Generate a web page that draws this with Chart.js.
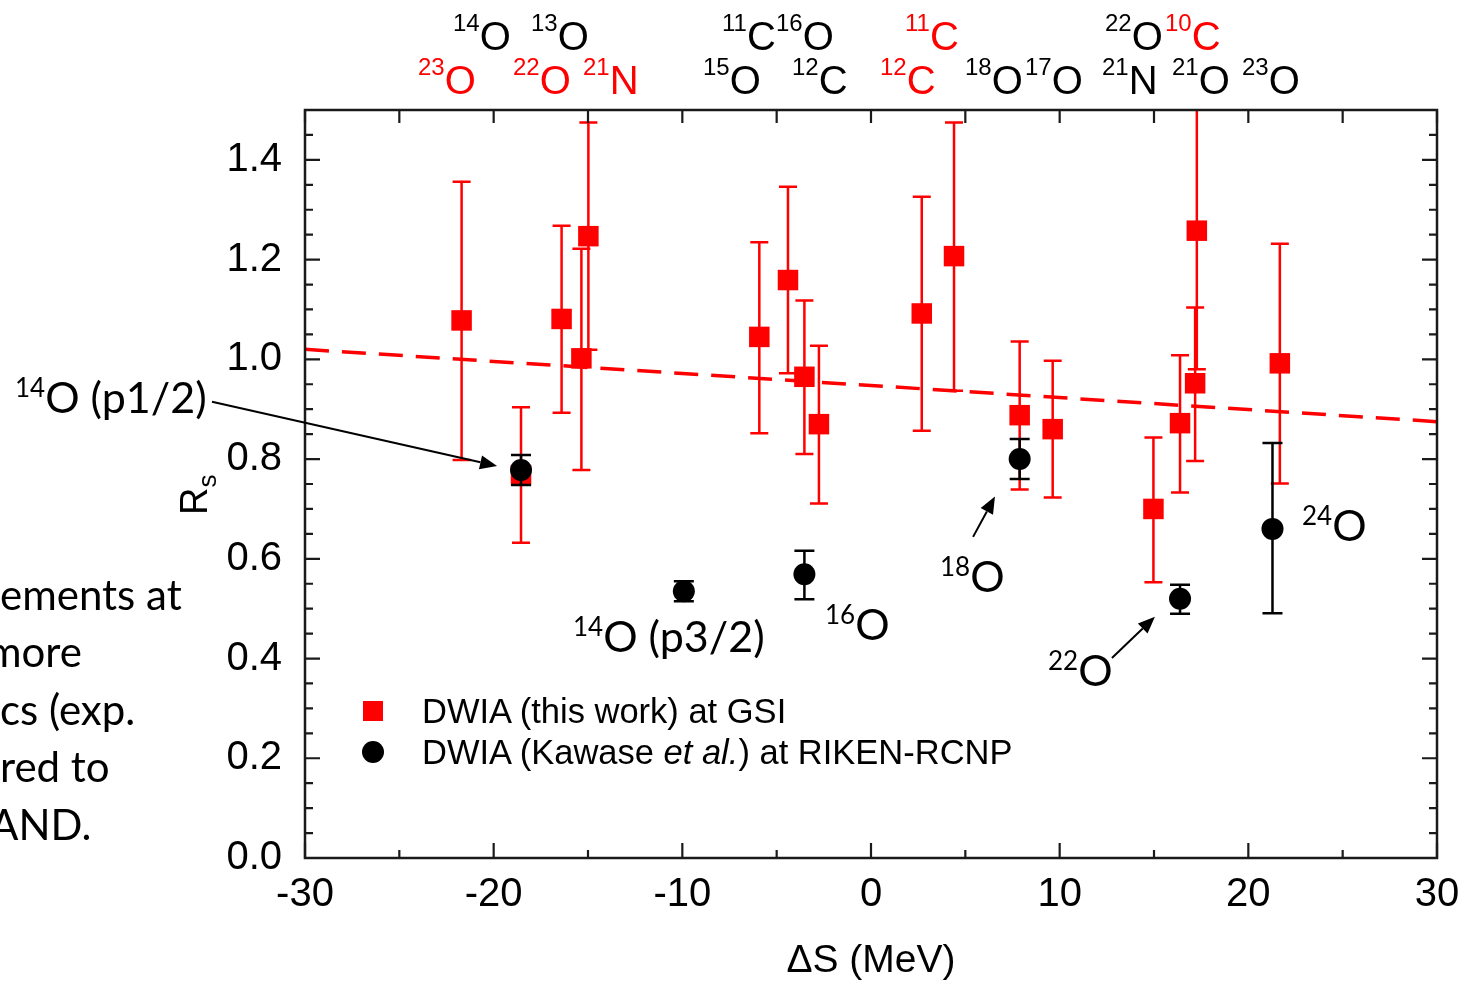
<!DOCTYPE html>
<html>
<head>
<meta charset="utf-8">
<script src="https://cdn.jsdelivr.net/npm/chart.js@4.4.1/dist/chart.umd.min.js"></script>
<style>
  body { margin: 0; background: #fff; }
  #wrap { position: relative; width: 1470px; height: 985px; overflow: hidden; }
  #c { position: absolute; left: 0; top: 0; }
  .t { position: absolute; white-space: nowrap; line-height: 1; }
  .ar { font-family: "Liberation Sans", Arial, sans-serif; }
  .cal { font-family: Lato, "Open Sans", sans-serif; }
  .mk { position: absolute; }
</style>
</head>
<body>
<div id="wrap">
  <canvas id="c" width="1470" height="985"></canvas>
</div>
<script>
// red squares: DWIA (this work) at GSI
const redX    = [-21.7, -18.55, -16.4, -15.35, -14.98, -5.92, -4.4, -3.53, -2.76, 2.69, 4.4, 7.88, 9.63, 14.97, 16.38, 17.18, 17.27, 21.67];
const redY    = [1.078, 0.768, 1.081, 1.002, 1.247, 1.045, 1.159, 0.965, 0.870, 1.092, 1.207, 0.888, 0.860, 0.700, 0.872, 0.952, 1.258, 0.992];
const redLow  = [0.798, 0.632, 0.893, 0.778, 1.019, 0.852, 0.972, 0.810, 0.711, 0.857, 0.937, 0.739, 0.723, 0.553, 0.733, 0.796, 0.980, 0.751];
const redHigh = [1.356, 0.904, 1.268, 1.222, 1.475, 1.235, 1.346, 1.118, 1.027, 1.326, 1.475, 1.036, 0.997, 0.843, 1.008, 1.104, 1.550, 1.232];

// black circles: DWIA (Kawase et al.) at RIKEN-RCNP
const blackX    = [-18.55, -9.92, -3.53, 7.88, 16.38, 21.28];
const blackY    = [0.778, 0.535, 0.569, 0.800, 0.520, 0.660];
const blackLow  = [0.748, 0.515, 0.519, 0.760, 0.490, 0.491];
const blackHigh = [0.808, 0.555, 0.616, 0.840, 0.548, 0.832];

// dashed linear trend
const fitX = [-30, 30];
const fitY = [1.02, 0.875];

const xTicks = [-30, -20, -10, 0, 10, 20, 30];
const yTicks = [0, 0.2, 0.4, 0.6, 0.8, 1.0, 1.2, 1.4];

const RED = '#ff0000';
const wrap = document.getElementById('wrap');

// error bars drawn under each dataset's own markers
const errorBars = {
  id: 'errorBars',
  beforeDatasetDraw(chart, args) {
    const ds = chart.data.datasets[args.index];
    if (!ds.errLow) return;
    const ctx = chart.ctx, xs = chart.scales.x, ys = chart.scales.y, a = chart.chartArea;
    ctx.save();
    ctx.beginPath();
    ctx.rect(a.left, a.top, a.right - a.left, a.bottom - a.top);
    ctx.clip();
    ctx.strokeStyle = ds.errColor;
    ctx.lineWidth = 2.5;
    ds.data.forEach((p, i) => {
      const px = xs.getPixelForValue(p.x);
      const lo = ys.getPixelForValue(ds.errLow[i]);
      const hi = ys.getPixelForValue(ds.errHigh[i]);
      ctx.beginPath();
      ctx.moveTo(px, lo); ctx.lineTo(px, hi);
      ctx.moveTo(px - ds.capHalf, lo); ctx.lineTo(px + ds.capHalf, lo);
      ctx.moveTo(px - ds.capHalf, hi); ctx.lineTo(px + ds.capHalf, hi);
      ctx.stroke();
    });
    ctx.restore();
  }
};

// box frame with inward ticks on all four sides
const frame = {
  id: 'frame',
  afterDatasetsDraw(chart) {
    const ctx = chart.ctx, xs = chart.scales.x, ys = chart.scales.y, a = chart.chartArea;
    ctx.save();
    ctx.strokeStyle = '#1a1a1a';
    ctx.lineWidth = 2.5;
    ctx.strokeRect(a.left, a.top, a.right - a.left, a.bottom - a.top);
    ctx.lineWidth = 2.2;
    ctx.beginPath();
    for (let k = 0; k <= 12; k++) {
      const v = -30 + k * 5;
      const px = xs.getPixelForValue(v);
      const len = k % 2 === 0 ? 15 : 8;
      ctx.moveTo(px, a.bottom); ctx.lineTo(px, a.bottom - len);
      ctx.moveTo(px, a.top); ctx.lineTo(px, a.top + 13);
    }
    for (let k = 0; k <= 30; k++) {
      const py = ys.getPixelForValue(k * 0.05);
      const len = k % 4 === 0 ? 15 : 8;
      ctx.moveTo(a.left, py); ctx.lineTo(a.left + len, py);
      ctx.moveTo(a.right, py); ctx.lineTo(a.right - len, py);
    }
    ctx.stroke();
    ctx.restore();
  },
  afterDraw(chart) {
    // arrows pointing at labelled points (data coordinates)
    const ctx = chart.ctx, xs = chart.scales.x, ys = chart.scales.y;
    const arrows = [
      [-34.93, 0.915, -19.82, 0.786],
      [5.41, 0.644, 6.57, 0.725],
      [12.77, 0.401, 15.05, 0.484]
    ];
    ctx.save();
    ctx.strokeStyle = '#000';
    ctx.fillStyle = '#000';
    ctx.lineWidth = 2;
    arrows.forEach(([x0, y0, x1, y1]) => {
      const ax = xs.getPixelForValue(x0), ay = ys.getPixelForValue(y0);
      const bx = xs.getPixelForValue(x1), by = ys.getPixelForValue(y1);
      const ang = Math.atan2(by - ay, bx - ax);
      const hl = 17, hw = 7;
      const cx = bx - hl * Math.cos(ang), cy = by - hl * Math.sin(ang);
      ctx.beginPath();
      ctx.moveTo(ax, ay); ctx.lineTo(cx, cy);
      ctx.stroke();
      ctx.beginPath();
      ctx.moveTo(bx, by);
      ctx.lineTo(cx + hw * Math.sin(ang), cy - hw * Math.cos(ang));
      ctx.lineTo(cx - hw * Math.sin(ang), cy + hw * Math.cos(ang));
      ctx.closePath();
      ctx.fill();
    });
    ctx.restore();
  }
};

new Chart(document.getElementById('c'), {
  type: 'scatter',
  data: {
    datasets: [
      {
        label: 'DWIA (Kawase et al.) at RIKEN-RCNP',
        data: blackX.map((x, i) => ({ x, y: blackY[i] })),
        pointStyle: 'circle', pointRadius: 11,
        backgroundColor: '#000', borderWidth: 0,
        errLow: blackLow, errHigh: blackHigh, errColor: '#000', capHalf: 10,
        order: 0
      },
      {
        label: 'DWIA (this work) at GSI',
        data: redX.map((x, i) => ({ x, y: redY[i] })),
        pointStyle: 'rect', pointRadius: 14.5,
        backgroundColor: RED, borderWidth: 0,
        errLow: redLow, errHigh: redHigh, errColor: RED, capHalf: 9,
        order: 1
      },
      {
        type: 'line',
        label: 'trend',
        data: fitX.map((x, i) => ({ x, y: fitY[i] })),
        borderColor: RED, borderWidth: 3.5, borderDash: [24, 13],
        pointRadius: 0, fill: false,
        order: 2
      }
    ]
  },
  options: {
    responsive: false,
    animation: false,
    layout: { padding: { top: 110, right: 33, left: 0, bottom: 0 } },
    plugins: { legend: { display: false }, tooltip: { enabled: false } },
    scales: {
      x: {
        type: 'linear', min: -30, max: 30,
        afterBuildTicks: s => { s.ticks = xTicks.map(v => ({ value: v })); },
        afterFit: s => { s.height = 127; },
        grid: { display: false },
        border: { display: false },
        ticks: {
          color: '#000', padding: 5, maxRotation: 0, autoSkip: false,
          font: { family: 'Liberation Sans', size: 40 },
          callback: v => String(v)
        },
        title: {
          display: true, text: 'ΔS (MeV)', color: '#000',
          font: { family: 'Liberation Sans', size: 39 },
          padding: { top: 0, bottom: 0 }
        }
      },
      y: {
        type: 'linear', min: 0, max: 1.5,
        afterBuildTicks: s => { s.ticks = yTicks.map(v => ({ value: v })); },
        afterFit: s => { s.width = 305; },
        grid: { display: false },
        border: { display: false },
        ticks: {
          color: '#000', padding: 15,
          font: { family: 'Liberation Sans', size: 40 },
          callback: v => v.toFixed(1)
        }
      }
    }
  },
  plugins: [errorBars, frame]
});

// ---- text overlays ----
function addLabel(x, baseline, parts, cls, size, supSize, raise) {
  const d = document.createElement('div');
  d.className = 't ' + cls;
  d.style.left = x + 'px';
  d.style.fontSize = size + 'px';
  d.style.top = (baseline - size * (cls === 'ar' ? 0.8465 : 0.887)) + 'px';
  parts.forEach(p => {
    const s = document.createElement('span');
    s.textContent = p[0];
    s.style.color = p[2] || '#000';
    if (p[1] === 'sup') { s.style.fontSize = supSize + 'px'; s.style.verticalAlign = raise + 'px'; s.style.lineHeight = '0'; }
    if (p[1] === 'it') s.style.fontStyle = 'italic';
    d.appendChild(s);
  });
  wrap.appendChild(d);
  return d;
}

// nuclide labels above the frame: [left, baseline, mass, symbol, colour]
const topLabels = [
  [453, 50, '14', 'O', '#000'], [531, 50, '13', 'O', '#000'], [722, 50, '11', 'C', '#000'], [776, 50, '16', 'O', '#000'],
  [905, 50, '11', 'C', RED], [1105, 50, '22', 'O', '#000'], [1165, 50, '10', 'C', RED],
  [418, 94, '23', 'O', RED], [513, 94, '22', 'O', RED], [583, 94, '21', 'N', RED], [703, 94, '15', 'O', '#000'],
  [792, 94, '12', 'C', '#000'], [880, 94, '12', 'C', RED], [965, 94, '18', 'O', '#000'], [1025, 94, '17', 'O', '#000'],
  [1102, 94, '21', 'N', '#000'], [1172, 94, '21', 'O', '#000'], [1242, 94, '23', 'O', '#000']
];
topLabels.forEach(([x, b, m, s, c]) => addLabel(x, b, [[m, 'sup', c], [s, '', c]], 'ar', 40, 24, 19));

// point annotations
const notes = [
  [15, 413, '14', 'O (p1/2)'], [573, 652, '14', 'O (p3/2)'], [825, 640, '16', 'O'],
  [940, 592, '18', 'O'], [1048, 686, '22', 'O'], [1302, 541, '24', 'O']
];
notes.forEach(([x, b, m, s]) => addLabel(x, b, [[m, 'sup'], [s, '']], 'cal', 43, 26, 16));

// slide text clipped at the left edge
const sideText = [[0, 610, 'ements at'], [-13, 667, 'more'], [0, 725, 'cs (exp.'], [0, 782, 'red to'], [-10, 840, 'AND.']];
sideText.forEach(([x, b, s]) => addLabel(x, b, [[s, '']], 'cal', 42));

// legend
const sq = document.createElement('div');
sq.className = 'mk';
Object.assign(sq.style, { left: '363px', top: '701px', width: '20px', height: '20px', background: RED });
wrap.appendChild(sq);
const dot = document.createElement('div');
dot.className = 'mk';
Object.assign(dot.style, { left: '362px', top: '741px', width: '22px', height: '22px', background: '#000', borderRadius: '50%' });
wrap.appendChild(dot);
addLabel(422, 723, [['DWIA (this work) at GSI', '']], 'ar', 34.5);
addLabel(422, 764, [['DWIA (Kawase ', ''], ['et al.', 'it'], [') at RIKEN-RCNP', '']], 'ar', 34.5);

// y axis title R_s
const yt = document.createElement('div');
yt.className = 't ar';
Object.assign(yt.style, { left: '175px', top: '515px', fontSize: '38px', transform: 'rotate(-90deg)', transformOrigin: '0 0' });
yt.innerHTML = 'R<span style="font-size:26px;vertical-align:-9px;line-height:0">s</span>';
wrap.appendChild(yt);
</script>
</body>
</html>
